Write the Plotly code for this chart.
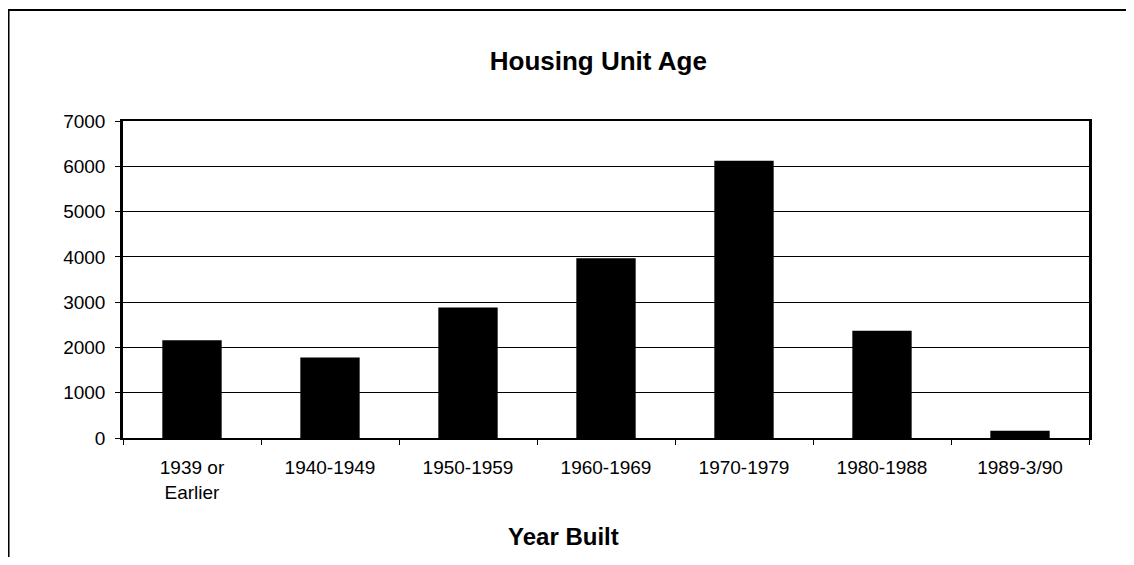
import plotly.graph_objects as go

# Housing units by year built
categories = ["1939 or<br>Earlier", "1940-1949", "1950-1959", "1960-1969",
              "1970-1979", "1980-1988", "1989-3/90"]
units = [2160, 1780, 2880, 3970, 6120, 2370, 160]

font_family = "Arial, Liberation Sans, sans-serif"

fig = go.Figure()
fig.add_trace(go.Bar(x=categories, y=units, marker=dict(color="black", line=dict(width=0)),
                     width=0.43))

# page has an 8px body margin, so the figure is a bit smaller than the window
fig.update_layout(
    width=1118, height=549,
    paper_bgcolor="white", plot_bgcolor="white",
    margin=dict(l=115, r=37, t=113, b=119),
    showlegend=False,
    font=dict(family=font_family, color="black", size=19),
    title=dict(text="<b>Housing Unit Age</b>", x=0.528, xanchor="center",
               y=0.903, yanchor="middle", font=dict(size=26)),
)
fig.update_xaxes(
    showline=True, linecolor="black", linewidth=2, mirror=True,
    ticks="outside", tickson="boundaries", ticklen=5, tickcolor="black",
    tickfont=dict(size=19), ticklabelstandoff=11,
)
fig.update_yaxes(
    range=[0, 7000], dtick=1000,
    showline=True, linecolor="black", linewidth=2.5, mirror=True,
    showgrid=True, gridcolor="black", gridwidth=1.2,
    ticks="outside", ticklen=5, tickcolor="black",
    tickfont=dict(size=19), ticklabelstandoff=6, zeroline=False,
)

fig.add_annotation(text="<b>Year Built</b>", xref="paper", yref="paper",
                   x=0.4565, y=-0.312, xanchor="center", yanchor="middle",
                   showarrow=False, font=dict(size=24))

# outer frame around the chart (runs off the right and bottom edges)
fig.add_shape(type="rect", xref="paper", yref="paper",
              x0=-0.1185, x1=1.2, y0=-0.6, y1=1.35,
              line=dict(color="black", width=2), layer="below")

fig.write_html("out.html")
